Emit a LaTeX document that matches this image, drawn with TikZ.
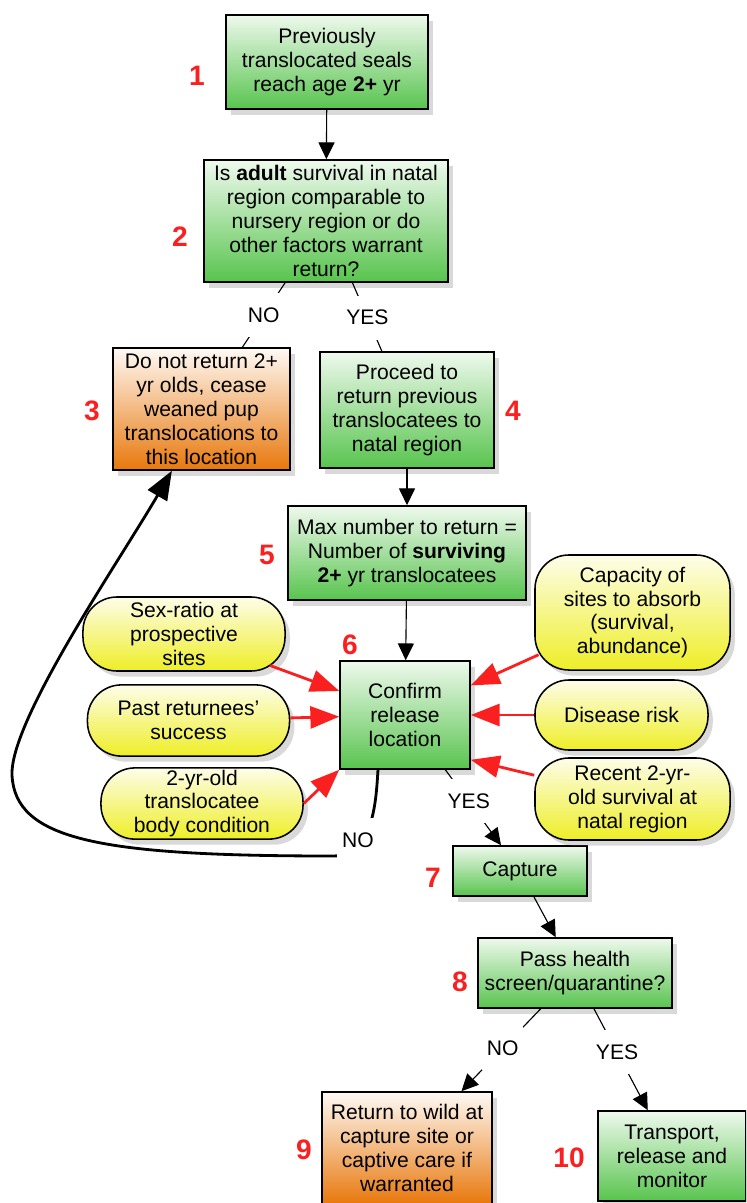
\documentclass[tikz,border=0pt]{standalone}
\usepackage{fontspec}
\setmainfont{Liberation Sans}
\usetikzlibrary{arrows.meta,shadows}

\definecolor{stepgreen}{RGB}{88,196,78}
\definecolor{steporange}{RGB}{232,120,12}
\definecolor{factoryellow}{RGB}{238,238,38}
\definecolor{numred}{RGB}{250,32,32}

\tikzset{
  box/.style={draw=black, line width=1.1pt, align=center, inner sep=0pt,
    font=\fontsize{15}{17}\selectfont,
    drop shadow={shadow xshift=0.12cm, shadow yshift=-0.14cm, opacity=0.3}},
  gobox/.style={box, top color=stepgreen!10!white, bottom color=stepgreen},
  stopbox/.style={box, top color=steporange!4!white, bottom color=steporange},
  factor/.style={box, rounded corners=0.85cm, top color=factoryellow!10!white, bottom color=factoryellow},
  num/.style={text=numred, font=\fontsize{20}{20}\selectfont\bfseries},
  answer/.style={fill=white, inner xsep=0.12cm, minimum height=1.1cm, font=\fontsize{15}{17}\selectfont},
  flow/.style={line width=0.8pt, -{Triangle[length=0.42cm,width=0.4cm]}},
  branch/.style={line width=0.8pt},
  push/.style={draw=numred, line width=2pt, -{Triangle[length=0.72cm,width=0.55cm]}},
  back/.style={line width=2pt, -{Triangle[length=0.72cm,width=0.55cm]}}
}

\begin{document}
\begin{tikzpicture}[x=0.025cm,y=-0.025cm]
\clip (0,0) rectangle (746,1203);

\node[gobox, minimum width=5.05cm, minimum height=2.35cm] (s1) at (327,62) {Previously\\translocated seals\\reach age \textbf{2+} yr};
\node[gobox, minimum width=6.1cm, minimum height=3.05cm] (s2) at (326,221) {Is \textbf{adult} survival in natal\\region comparable to\\nursery region or do\\other factors warrant\\return?};
\node[stopbox, minimum width=4.425cm, minimum height=3.05cm] (s3) at (201.5,409) {Do not return 2+\\yr olds, cease\\weaned pup\\translocations to\\this location};
\node[gobox, minimum width=4.35cm, minimum height=2.9cm] (s4) at (407,410) {Proceed to\\return previous\\translocatees to\\natal region};
\node[gobox, minimum width=5.95cm, minimum height=2.35cm] (s5) at (407,553) {Max number to return =\\Number of \textbf{surviving}\\\textbf{2+} yr translocatees};
\node[gobox, minimum width=3.25cm, minimum height=2.7cm] (s6) at (405,715) {Confirm\\release\\location};
\node[gobox, minimum width=3.35cm, minimum height=1.25cm] (s7) at (520,871) {Capture};
\node[gobox, minimum width=4.85cm, minimum height=1.75cm] (s8) at (575,973) {Pass health\\screen/quarantine?};
\node[stopbox, minimum width=4.25cm, minimum height=2.8cm] (s9) at (407,1148) {Return to wild at\\capture site or\\captive care if\\warranted};
\node[gobox, minimum width=3.7cm, minimum height=2.25cm] (s10) at (672,1156) {Transport,\\release and\\monitor};

\node[factor, minimum width=5.05cm, minimum height=1.85cm] (f1) at (184,634) {Sex-ratio at\\prospective\\sites};
\node[factor, minimum width=5.05cm, minimum height=1.78cm] (f2) at (188.5,720.5) {Past returnees'\\success};
\node[factor, minimum width=5.05cm, minimum height=1.78cm] (f3) at (202,803.5) {2-yr-old\\translocatee\\body condition};
\node[factor, minimum width=4.875cm, minimum height=2.875cm] (f4) at (632.5,612.5) {Capacity of\\sites to absorb\\(survival,\\abundance)};
\node[factor, minimum width=4.325cm, minimum height=1.75cm] (f5) at (621.5,715) {Disease risk};
\node[factor, minimum width=4.875cm, minimum height=2.05cm] (f6) at (632.5,799) {Recent 2-yr-\\old survival at\\natal region};

\node[num] (n1) at (197,76) {1};
\node[num] (n2) at (180,237) {2};
\node[num] (n3) at (92,411) {3};
\node[num] (n4) at (513,411) {4};
\node[num] (n5) at (267,555) {5};
\node[num] (n6) at (350,645) {6};
\node[num] (n7) at (433,878) {7};
\node[num] (n8) at (460,982) {8};
\node[num] (n9) at (304,1150) {9};
\node[num] (n10) at (569,1158) {10};

\draw[flow] (s1) -- (s2);
\draw[branch] (s2) -- node[answer] (no2) {NO} (s3);
\draw[branch] (s2) -- node[answer,pos=0.51] (yes2) {YES} (s4);
\draw[flow] (s4) -- (s5);
\draw[flow] (s5) -- (s6);
\draw[flow] (s6) -- node[answer,pos=0.42] (yes6) {YES} (s7);
\draw[flow] (s7) -- (s8);
\draw[flow] (s8) -- node[answer,pos=0.48] (no8) {NO} (s9);
\draw[flow] (s8) -- node[answer,pos=0.43] (yes8) {YES} (s10);

\draw[push, shorten <=-0.42cm] (f1) -- (s6);
\draw[push] (f2) -- (s6);
\draw[push] (f3.east) -- (s6.south west);
\draw[push, shorten <=-0.12cm] (f4) -- (s6);
\draw[push] (f5) -- (s6);
\draw[push] (f6) -- ([yshift=0.25cm]s6.south east);

% back to box 3
\draw[back] ([xshift=-0.675cm]s6.south) .. controls (376,800) and (374,856) .. (333,856)
  .. controls (100,856) and (15,840) .. (12,775)
  .. controls (10,720) and (120,560) .. ([xshift=-0.74cm]s3.south);
\node[answer] (no6) at (358,840) {NO};

\end{tikzpicture}
\end{document}
